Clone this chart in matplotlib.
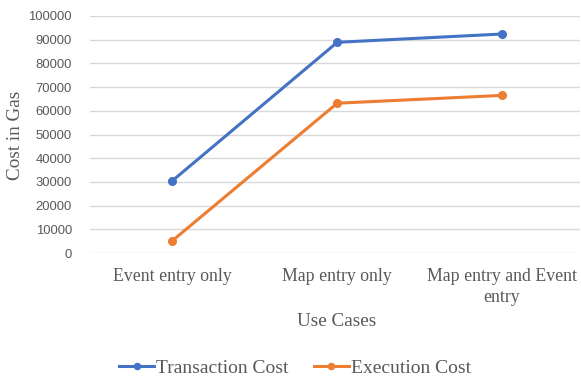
import matplotlib
matplotlib.use("Agg")
import matplotlib.pyplot as plt

# Данные графика
use_cases = ["Event entry only", "Map entry only", "Map entry and Event\nentry"]
transaction_cost = [30500, 88900, 92400]
execution_cost = [5200, 63200, 66500]
y_ticks = list(range(0, 100001, 10000))

BLUE = "#4472C4"
ORANGE = "#ED7D31"
GRAY = "#595959"
SERIF = "Liberation Serif"

fig = plt.figure(figsize=(5.81, 3.81), dpi=100)
ax = fig.add_axes([90 / 581, 128 / 381, 490 / 581, 237 / 381])

x = list(range(len(use_cases)))
ax.plot(x, transaction_cost, "-o", color=BLUE, lw=2.2, ms=5.5, label="Transaction Cost")
ax.plot(x, execution_cost, "-o", color=ORANGE, lw=2.2, ms=5.5, label="Execution Cost")

ax.set_xlim(-0.5, 2.473)
ax.set_ylim(0, 100000)
ax.set_yticks(y_ticks)
ax.set_yticklabels([str(v) for v in y_ticks], fontfamily="Liberation Sans",
                   fontsize=9.4, color=GRAY)
ax.set_xticks(x)
ax.set_xticklabels(use_cases, fontfamily=SERIF, fontsize=12.8, color=GRAY,
                   linespacing=1.3)
ax.tick_params(axis="both", length=0)
ax.tick_params(axis="x", pad=11)
ax.tick_params(axis="y", pad=13)

ax.grid(axis="y", color="#D9D9D9", lw=1)
ax.set_axisbelow(True)
for s in ax.spines.values():
    s.set_visible(False)

fig.text(16 / 581, 1 - 135 / 381, "Cost in Gas", rotation=90, ha="center", va="center",
         fontfamily=SERIF, fontsize=13.8, color=GRAY)
fig.text(337 / 581, 1 - 322 / 381, "Use Cases", ha="center", va="center",
         fontfamily=SERIF, fontsize=13.8, color=GRAY)

fig.legend(loc="center", bbox_to_anchor=(295 / 581, 1 - 368 / 381), ncol=2, frameon=False,
           prop={"family": SERIF, "size": 14}, labelcolor=GRAY, handlelength=1.8,
           handletextpad=0.1, columnspacing=1.3, markerscale=0.8)

fig.savefig("out.png", dpi=100)
